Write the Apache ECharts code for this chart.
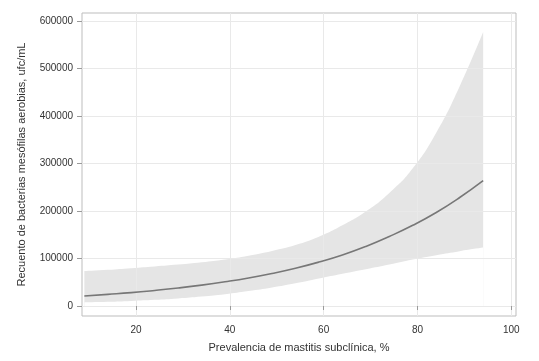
<!DOCTYPE html>
<html><head><meta charset="utf-8">
<script src="https://cdn.jsdelivr.net/npm/echarts@6/dist/echarts.min.js"></script>
<style>html,body{margin:0;padding:0;background:#fff}#c{width:539px;height:361px}</style>
</head><body><div id="c"></div>
<script>
// Prevalencia de mastitis subclínica (%)
const prevalence = [9, 14, 19, 24, 29, 34, 39, 44, 49, 54, 59, 64, 69, 74, 79, 84, 89, 94];
// Recuento estimado (ufc/mL)
const fitted = [21000, 24500, 28200, 32800, 38000, 44000, 51000, 59000, 68500, 79500, 92500, 107500, 125500, 146500, 170000, 197000, 228500, 264000];
// Intervalo de confianza (límite inferior y superior)
const lower = [7500, 8800, 10600, 13000, 16000, 20000, 25000, 31500, 39000, 48000, 58000, 68000, 77500, 87500, 98000, 107000, 115500, 123000];
const upper = [73500, 76300, 79800, 83300, 87200, 92000, 98000, 106000, 116000, 128500, 146000, 170000, 199000, 238000, 290000, 365000, 463000, 577000];
// Ticks
const xTicks = [20, 40, 60, 80, 100];
const yTicks = [0, 100000, 200000, 300000, 400000, 500000, 600000];

const lowerData = prevalence.map((x, i) => [x, lower[i]]);
const upperData = prevalence.map((x, i) => [x, upper[i]]);
const fitData = prevalence.map((x, i) => [x, fitted[i]]);

const font = 'Liberation Sans, Arial, sans-serif';
const chart = echarts.init(document.getElementById('c'), null, {renderer: 'canvas'});
chart.setOption({
  animation: false,
  backgroundColor: '#fff',
  grid: {left: 82, right: 23, top: 13, bottom: 45, show: true, borderColor: '#bdbdbd', borderWidth: 1, backgroundColor: '#fff'},
  xAxis: {
    type: 'value', min: 8.5, max: 101, z: 3,
    name: 'Prevalencia de mastitis subclínica, %', nameLocation: 'middle', nameGap: 26,
    nameTextStyle: {fontFamily: font, fontSize: 11, color: '#333'},
    axisLine: {show: false},
    axisTick: {show: true, length: 4, lineStyle: {color: '#9a9a9a'}, customValues: xTicks},
    axisLabel: {fontFamily: font, fontSize: 10, color: '#333', margin: 9, customValues: xTicks, formatter: v => String(v)},
    splitLine: {show: true, lineStyle: {color: '#e9e9e9', width: 1}}
  },
  yAxis: {
    type: 'value', min: -21000, max: 617000, z: 3,
    name: 'Recuento de bacterias mesófilas aerobias, ufc/mL', nameLocation: 'middle', nameGap: 55,
    nameTextStyle: {fontFamily: font, fontSize: 11, color: '#333'},
    axisLine: {show: false},
    axisTick: {show: true, length: 5, lineStyle: {color: '#9a9a9a'}, customValues: yTicks},
    axisLabel: {fontFamily: font, fontSize: 10, color: '#333', margin: 9, customValues: yTicks, formatter: v => String(v)},
    splitLine: {show: true, lineStyle: {color: '#e9e9e9', width: 1}}
  },
  series: [
    {type: 'line', data: upperData, smooth: 0.5, symbol: 'none', z: 1,
     lineStyle: {width: 0, opacity: 0}, areaStyle: {color: '#e5e5e5', opacity: 1, origin: 0}, silent: true},
    {type: 'line', data: lowerData, smooth: 0.5, symbol: 'none', z: 2,
     lineStyle: {width: 0, opacity: 0}, areaStyle: {color: '#ffffff', opacity: 1, origin: 0}, silent: true},
    {type: 'line', data: fitData, smooth: 0.5, symbol: 'none', z: 5,
     lineStyle: {color: '#777777', width: 1.6}}
  ]
});
</script></body></html>
